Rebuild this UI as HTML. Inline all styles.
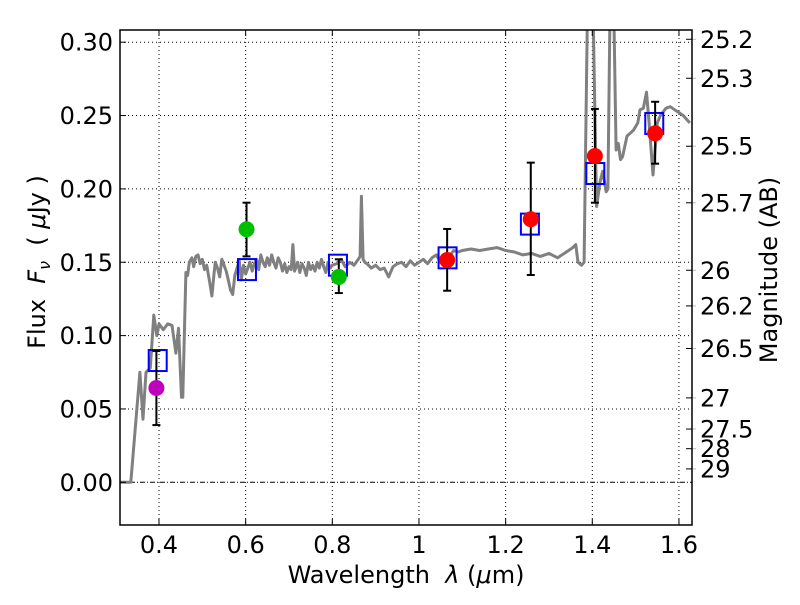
<!DOCTYPE html>
<html><head><meta charset="utf-8"><style>
body{margin:0;background:#fff}
#chart{font-family:"DejaVu Sans","Liberation Sans",sans-serif;font-size:24px}
#chart text{font-family:"DejaVu Sans","Liberation Sans",sans-serif;font-size:24px;fill:#000;white-space:pre}
</style></head><body>
<svg id="chart" width="800" height="600" xmlns="http://www.w3.org/2000/svg" font-size="24">
<rect width="800" height="600" fill="#fff"/>
<g id="grid"></g><g id="series"></g><g id="axes"></g>
<text x="406" y="583" text-anchor="middle">Wavelength  <tspan font-style="italic">λ</tspan> (<tspan font-style="italic">μ</tspan>m)</text>
<text transform="translate(45,262) rotate(-90)" text-anchor="middle">Flux  <tspan font-style="italic">F</tspan><tspan font-style="italic" style="font-size:16px" dy="5">ν</tspan><tspan dy="-5">  ( </tspan><tspan font-style="italic">μ</tspan>Jy )</text>
<text transform="translate(777,270) rotate(-90)" text-anchor="middle">Magnitude (AB)</text>
</svg>
<script>
const specWave=[0.31,0.335,0.356,0.363,0.37,0.38,0.388,0.395,0.40,0.41,0.42,0.43,0.439,0.445,0.452,0.455,0.462,0.466,0.47,0.476,0.48,0.485,0.49,0.495,0.50,0.505,0.51,0.516,0.522,0.527,0.53,0.535,0.54,0.545,0.55,0.555,0.56,0.565,0.57,0.575,0.579,0.585,0.59,0.595,0.60,0.605,0.61,0.615,0.62,0.625,0.63,0.635,0.64,0.645,0.65,0.655,0.66,0.665,0.67,0.675,0.68,0.685,0.69,0.695,0.70,0.705,0.709,0.713,0.72,0.725,0.73,0.735,0.74,0.745,0.75,0.755,0.76,0.765,0.77,0.775,0.78,0.785,0.79,0.795,0.80,0.81,0.82,0.83,0.84,0.85,0.86,0.864,0.867,0.871,0.875,0.88,0.89,0.90,0.91,0.92,0.93,0.94,0.95,0.96,0.97,0.98,0.99,1.0,1.01,1.02,1.03,1.04,1.05,1.06,1.07,1.08,1.09,1.10,1.12,1.14,1.16,1.18,1.20,1.22,1.24,1.26,1.28,1.30,1.32,1.34,1.355,1.362,1.367,1.375,1.381,1.39,1.40,1.41,1.418,1.424,1.432,1.436,1.442,1.448,1.455,1.46,1.465,1.47,1.48,1.495,1.505,1.51,1.518,1.525,1.531,1.54,1.55,1.557,1.57,1.58,1.59,1.60,1.61,1.625];
const specFlux=[0,0,0.075,0.043,0.075,0.078,0.114,0.100,0.108,0.104,0.108,0.107,0.088,0.105,0.058,0.058,0.143,0.141,0.150,0.153,0.147,0.154,0.155,0.149,0.152,0.145,0.148,0.138,0.127,0.142,0.150,0.146,0.140,0.152,0.148,0.144,0.138,0.131,0.128,0.141,0.145,0.151,0.138,0.148,0.142,0.146,0.150,0.144,0.149,0.152,0.145,0.155,0.150,0.147,0.153,0.148,0.155,0.150,0.146,0.153,0.150,0.144,0.149,0.143,0.147,0.145,0.162,0.144,0.150,0.143,0.149,0.146,0.141,0.150,0.145,0.148,0.144,0.150,0.146,0.152,0.147,0.143,0.150,0.146,0.148,0.149,0.152,0.147,0.150,0.148,0.152,0.154,0.195,0.152,0.150,0.149,0.146,0.148,0.145,0.146,0.140,0.147,0.149,0.150,0.147,0.151,0.148,0.150,0.152,0.149,0.153,0.155,0.150,0.152,0.154,0.158,0.157,0.158,0.159,0.158,0.159,0.160,0.158,0.157,0.155,0.156,0.154,0.156,0.153,0.157,0.160,0.162,0.150,0.148,0.150,0.35,0.35,0.188,0.205,0.212,0.198,0.20,0.35,0.35,0.2265,0.231,0.22,0.222,0.236,0.240,0.245,0.254,0.255,0.266,0.245,0.2095,0.245,0.250,0.255,0.256,0.254,0.252,0.250,0.245,0.232];
const modelWave=[0.397,0.603,0.813,1.066,1.256,1.407,1.543];
const modelFlux=[0.083,0.145,0.148,0.153,0.176,0.2105,0.2446];
const obsWave=[0.394,0.602,0.815,1.065,1.258,1.406,1.545];
const obsFlux=[0.0643,0.1725,0.140,0.1515,0.1793,0.2224,0.2379];
const obsHi=[0.0895,0.1906,0.152,0.1727,0.2179,0.2545,0.2594];
const obsLo=[0.039,0.154,0.129,0.1306,0.1413,0.1906,0.2172];
const obsColor=['#bf00bf','#00bf00','#00bf00','#ff0000','#ff0000','#ff0000','#ff0000'];
const xTicks=[0.4,0.6,0.8,1.0,1.2,1.4,1.6];
const xTickLabels=['0.4','0.6','0.8','1','1.2','1.4','1.6'];
const yTicks=[0,0.05,0.10,0.15,0.20,0.25,0.30];
const yTickLabels=['0.00','0.05','0.10','0.15','0.20','0.25','0.30'];
const magTicks=[25.2,25.3,25.5,25.7,26,26.2,26.5,27,27.5,28,29];
const magLabels=['25.2','25.3','25.5','25.7','26','26.2','26.5','27','27.5','28','29'];

const L=120,R=692,T=30,B=525;
const X=v=>159+(v-0.4)*433.3;
const Y=v=>482.3-v*1467;
const NS='http://www.w3.org/2000/svg';
function mk(tag,attrs,parent){const e=document.createElementNS(NS,tag);for(const k in attrs)e.setAttribute(k,attrs[k]);parent.appendChild(e);return e;}
const grid=document.getElementById('grid'),ser=document.getElementById('series'),ax=document.getElementById('axes');
const cp=mk('clipPath',{id:'clip'},document.getElementById('chart'));mk('rect',{x:L,y:T,width:R-L,height:B-T},cp);
xTicks.forEach((v,i)=>{
  const g=mk('line',{x1:X(v),x2:X(v),y1:T,y2:B,stroke:'#000','stroke-width':1,'stroke-dasharray':'1,3'},grid);
  
  
  mk('line',{x1:X(v),x2:X(v),y1:B,y2:B-6,stroke:'#000'},ax);
  mk('line',{x1:X(v),x2:X(v),y1:T,y2:T+6,stroke:'#000'},ax);
  const t=mk('text',{x:X(v),y:B+28,'text-anchor':'middle'},ax);t.textContent=xTickLabels[i];
  
  
});
yTicks.forEach((v,i)=>{
  const g=mk('line',{x1:L,x2:R,y1:Y(v),y2:Y(v),stroke:'#000','stroke-width':1,'stroke-dasharray':v===0?'5,2,1,2':'1,3'},grid);
  
  
  mk('line',{x1:L,x2:L+6,y1:Y(v),y2:Y(v),stroke:'#000'},ax);
  const t=mk('text',{x:L-7,y:Y(v)+8.5,'text-anchor':'end'},ax);t.textContent=yTickLabels[i];
  
  
});
magTicks.forEach((m,i)=>{
  const f=Math.pow(10,(23.9-m)/2.5);const y=Y(f);
  mk('line',{x1:R-6,x2:R,y1:y,y2:y,stroke:'#000'},ax);
  mk('line',{x1:R,x2:R+4,y1:y,y2:y,stroke:'#bbb'},ax);
  const t=mk('text',{x:R+8,y:y+8.5},ax);t.textContent=magLabels[i];
  
  
});
const clipG=mk('g',{'clip-path':'url(#clip)'},ser);
const pts=specWave.map((w,i)=>X(w).toFixed(1)+','+Y(specFlux[i]).toFixed(1)).join(' ');
const sp=mk('polyline',{points:pts,fill:'none',stroke:'#808080','stroke-width':3,'stroke-linejoin':'round'},clipG);


modelWave.forEach((w,i)=>{
  const r=mk('rect',{x:X(w)-9,y:Y(modelFlux[i])-10.5,width:18,height:21,fill:'none',stroke:'#0000ff','stroke-width':2},clipG);
  
  
});
obsWave.forEach((w,i)=>{
  const x=X(w);
  const e=mk('g',{stroke:'#000','stroke-width':2},clipG);
  
  
  mk('line',{x1:x,x2:x,y1:Y(obsHi[i]),y2:Y(obsLo[i])},e);
  mk('line',{x1:x-4,x2:x+4,y1:Y(obsHi[i]),y2:Y(obsHi[i])},e);
  mk('line',{x1:x-4,x2:x+4,y1:Y(obsLo[i]),y2:Y(obsLo[i])},e);
  const c=mk('circle',{cx:x,cy:Y(obsFlux[i]),r:8,fill:obsColor[i]},clipG);
  
  
});
const fr=mk('rect',{x:L,y:T,width:R-L,height:B-T,fill:'none',stroke:'#000','stroke-width':1.5},ax);


</script>
</body></html>
